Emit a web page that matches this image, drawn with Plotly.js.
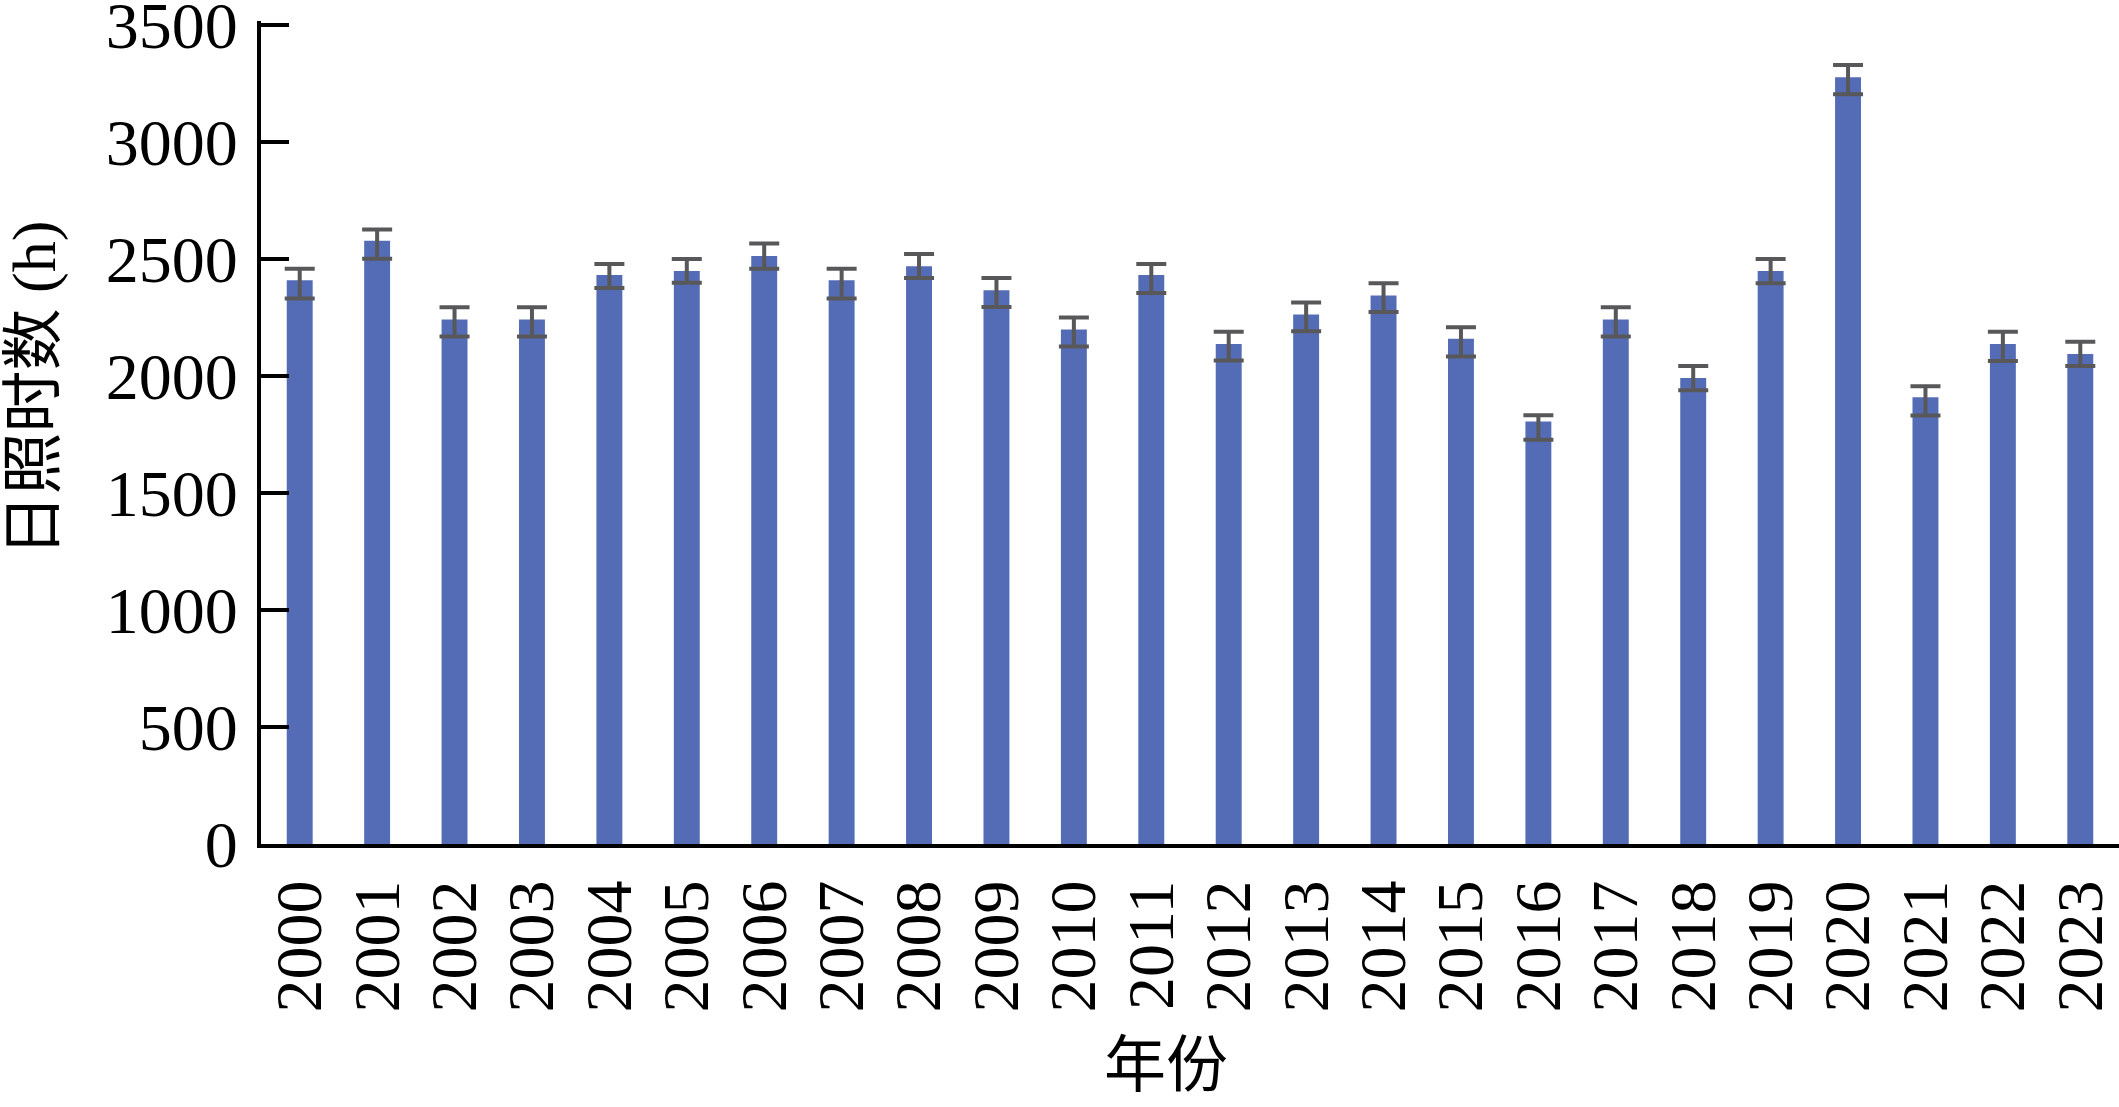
<!DOCTYPE html>
<html>
<head>
<meta charset="utf-8">
<script src="https://cdn.plot.ly/plotly-3.0.1.min.js"></script>
<style>
  body { margin: 0; background: white; }
  #chart { width: 2119px; height: 1107px; }
</style>
</head>
<body>
<div id="chart"></div>
<script>
var years = ["2000", "2001", "2002", "2003", "2004", "2005", "2006", "2007",
             "2008", "2009", "2010", "2011", "2012", "2013", "2014", "2015",
             "2016", "2017", "2018", "2019", "2020", "2021", "2022", "2023"];
var sunshineHours = [2408, 2576, 2240, 2240, 2430, 2447, 2511, 2408,
                     2468, 2365, 2197, 2430, 2136, 2261, 2343, 2158,
                     1805, 2240, 1990, 2447, 3275, 1908, 2136, 2093];
var errUp = [49, 49, 52, 52, 47, 52, 54, 49,
             52, 52, 52, 47, 52, 52, 52, 49,
             26, 52, 52, 52, 52, 47, 52, 52];
var errDown = [78, 76, 72, 72, 55, 50, 54, 78,
               51, 72, 72, 77, 71, 71, 71, 76,
               78, 73, 52, 52, 73, 78, 73, 51];
var yTicks = [0, 500, 1000, 1500, 2000, 2500, 3000, 3500];

var fontFam = "'Liberation Serif', 'Times New Roman', 'Noto Sans CJK SC', serif";

var data = [
  {
    type: "bar",
    x: years,
    y: sunshineHours,
    width: 0.335,
    marker: { color: "#546cb6" },
    error_y: {
      type: "data",
      symmetric: false,
      array: errUp,
      arrayminus: errDown,
      color: "#58585a",
      thickness: 4,
      width: 15
    },
    hoverinfo: "x+y"
  }
];

var layout = {
  width: 2119,
  height: 1107,
  margin: { t: 21, r: 0, l: 261, b: 263 },
  paper_bgcolor: "white",
  plot_bgcolor: "white",
  showlegend: false,
  font: { family: fontFam, color: "black", size: 66 },
  xaxis: {
    type: "category",
    range: [-0.5, 23.5],
    tickmode: "array",
    tickvals: years,
    ticktext: years,
    showline: true,
    linecolor: "black",
    linewidth: 4,
    ticks: "",
    tickangle: -90,
    ticklabelstandoff: 6,
    showgrid: false,
    zeroline: false,
    tickfont: { family: fontFam, size: 66, color: "black" }
  },
  yaxis: {
    range: [0, 3515],
    tickmode: "array",
    tickvals: yTicks,
    ticktext: yTicks.map(String),
    ticklabeloverflow: "allow",
    showline: true,
    linecolor: "black",
    linewidth: 4,
    ticks: "inside",
    ticklen: 28,
    tickwidth: 4,
    tickcolor: "black",
    ticklabelstandoff: 6,
    showgrid: false,
    zeroline: false,
    tickfont: { family: fontFam, size: 66, color: "black" }
  },
  annotations: [
    {
      text: "日照时数 (h)",
      xref: "paper", yref: "paper",
      x: -0.122, y: 0.554,
      xanchor: "center", yanchor: "middle",
      textangle: -90,
      showarrow: false,
      font: { family: fontFam, size: 62, color: "black" }
    },
    {
      text: "年份",
      xref: "paper", yref: "paper",
      x: 0.487, y: -0.27,
      xanchor: "center", yanchor: "middle",
      showarrow: false,
      font: { family: fontFam, size: 62, color: "black" }
    }
  ]
};

Plotly.newPlot("chart", data, layout, { displayModeBar: false });
</script>
</body>
</html>
